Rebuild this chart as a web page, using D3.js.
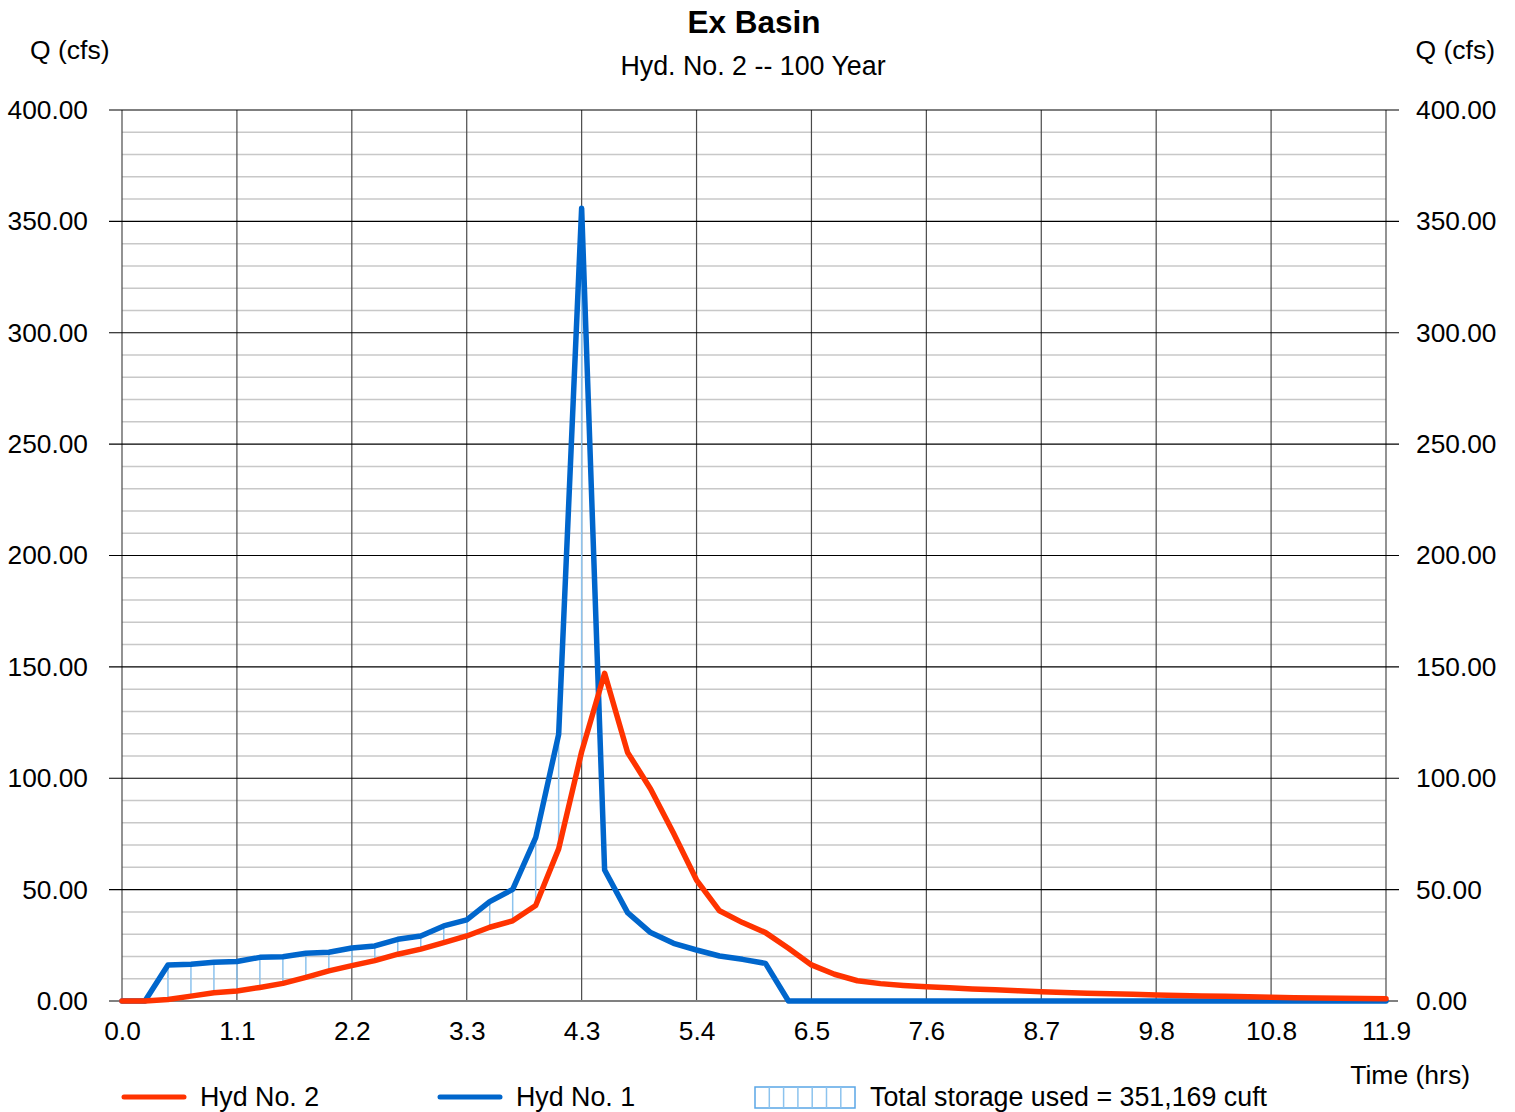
<!DOCTYPE html>
<html>
<head>
<meta charset="utf-8">
<script src="https://cdn.jsdelivr.net/npm/d3@7"></script>
<style>
  body { margin: 0; background: #fff; }
  text { font-family: "Liberation Sans", Arial, sans-serif; fill: #000; }
</style>
</head>
<body>
<script>
// hydrograph time step (hrs) and x-axis tick labels
const dt = 0.21673;
const xTickLabels = ["0.0", "1.1", "2.2", "3.3", "4.3", "5.4", "6.5", "7.6", "8.7", "9.8", "10.8", "11.9"];
const yTicks = [0, 50, 100, 150, 200, 250, 300, 350, 400];
const yMinor = [10, 20, 30, 40, 60, 70, 80, 90, 110, 120, 130, 140, 160, 170, 180, 190,
  210, 220, 230, 240, 260, 270, 280, 290, 310, 320, 330, 340, 360, 370, 380, 390];

// Hyd No. 1 (inflow, blue)
const hyd1 = [0, 0, 16.2, 16.5, 17.4, 17.7, 19.6, 19.9, 21.4, 21.9, 23.8, 24.7, 27.7, 29.2,
  33.7, 36.4, 44.6, 50.1, 73.3, 119.7, 355.9, 58.8, 39.7, 30.7, 25.9, 22.9, 20.2, 18.7, 16.9,
  0, 0, 0, 0, 0, 0, 0, 0, 0, 0, 0, 0, 0, 0, 0, 0, 0, 0, 0, 0, 0, 0, 0, 0, 0, 0, 0];
// Hyd No. 2 (outflow, red)
const hyd2 = [0, 0, 0.7, 2.2, 3.7, 4.5, 6.1, 7.9, 10.6, 13.5, 15.9, 18.1, 21.0, 23.3,
  26.2, 29.2, 33.1, 36.0, 42.9, 68.3, 111.9, 147.1, 111.6, 95.2, 75.3, 54.3, 40.5, 35.2, 30.7,
  23.7, 16.2, 12.0, 9.1, 7.8, 7.0, 6.4, 5.9, 5.4, 5.0, 4.6, 4.1, 3.8, 3.5, 3.2, 3.0, 2.7,
  2.5, 2.3, 2.1, 1.9, 1.7, 1.5, 1.4, 1.2, 1.1, 1.0];

const W = 1515, H = 1112;
const pLeft = 122, pRight = 1386, pTop = 110, pBottom = 1001;
const xMax = dt * (hyd1.length - 1);

const svg = d3.select("body").append("svg")
  .attr("width", W).attr("height", H);

const x = d3.scaleLinear().domain([0, xMax]).range([pLeft, pRight]);
const y = d3.scaleLinear().domain([0, 400]).range([pBottom, pTop]);
const xTicks = xTickLabels.map((d, i) => i * xMax / (xTickLabels.length - 1));

// minor grid
svg.append("g").selectAll("line").data(yMinor).enter().append("line")
  .attr("x1", pLeft).attr("x2", pRight)
  .attr("y1", d => y(d)).attr("y2", d => y(d))
  .attr("stroke", "#c8c8c8").attr("stroke-width", 1.5);

// vertical grid
svg.append("g").selectAll("line").data(xTicks).enter().append("line")
  .attr("x1", d => x(d)).attr("x2", d => x(d))
  .attr("y1", pTop).attr("y2", pBottom)
  .attr("stroke", "#4a4a4a").attr("stroke-width", 1.2);

// major horizontal grid (extends past plot as ticks)
svg.append("g").selectAll("line").data(yTicks.filter(d => d > 0)).enter().append("line")
  .attr("x1", pLeft - 13).attr("x2", pRight + 13)
  .attr("y1", d => y(d)).attr("y2", d => y(d))
  .attr("stroke", "#000").attr("stroke-width", 1.2);

// baseline
svg.append("line")
  .attr("x1", pLeft - 13).attr("x2", pRight + 12)
  .attr("y1", y(0)).attr("y2", y(0))
  .attr("stroke", "#808080").attr("stroke-width", 2);

// axes (labels only)
const fmt = d3.format(".2f");
const yl = svg.append("g").attr("transform", `translate(${pLeft},0)`)
  .call(d3.axisLeft(y).tickValues(yTicks).tickFormat(fmt).tickSize(0).tickPadding(34));
const yr = svg.append("g").attr("transform", `translate(${pRight},0)`)
  .call(d3.axisRight(y).tickValues(yTicks).tickFormat(fmt).tickSize(0).tickPadding(30));
const xb = svg.append("g").attr("transform", `translate(0,${pBottom})`)
  .call(d3.axisBottom(x).tickValues(xTicks).tickFormat((d, i) => xTickLabels[i]).tickSize(0).tickPadding(20));
[yl, yr, xb].forEach(g => {
  g.select(".domain").remove();
  g.selectAll("text").attr("font-size", 26.3).attr("font-family", "Liberation Sans, Arial, sans-serif").attr("fill", "#000");
});

// storage hatch: vertical lines where inflow exceeds outflow
const hatch = hyd1.map((q, i) => ({ t: i * dt, a: q, b: hyd2[i] })).filter(d => d.a > d.b);
svg.append("g").selectAll("line").data(hatch).enter().append("line")
  .attr("x1", d => x(d.t)).attr("x2", d => x(d.t))
  .attr("y1", d => y(d.a)).attr("y2", d => y(d.b))
  .attr("stroke", "#8cc3ee").attr("stroke-width", 1.5);

const line = d3.line().x((d, i) => x(i * dt)).y(d => y(d));
svg.append("path").datum(hyd1).attr("d", line)
  .attr("fill", "none").attr("stroke", "#0066cc").attr("stroke-width", 5.5)
  .attr("stroke-linejoin", "round").attr("stroke-linecap", "round");
svg.append("path").datum(hyd2).attr("d", line)
  .attr("fill", "none").attr("stroke", "#ff3300").attr("stroke-width", 5.5)
  .attr("stroke-linejoin", "round").attr("stroke-linecap", "round");

// titles
svg.append("text").attr("x", 754).attr("y", 33).attr("text-anchor", "middle")
  .attr("font-size", 31.5).attr("font-weight", "bold").text("Ex Basin");
svg.append("text").attr("x", 753).attr("y", 75).attr("text-anchor", "middle")
  .attr("font-size", 26.8).text("Hyd. No. 2 -- 100 Year");
svg.append("text").attr("x", 30).attr("y", 59).attr("font-size", 26.5).text("Q (cfs)");
svg.append("text").attr("x", 1495).attr("y", 59).attr("text-anchor", "end").attr("font-size", 26.5).text("Q (cfs)");
svg.append("text").attr("x", 1470).attr("y", 1084).attr("text-anchor", "end").attr("font-size", 26.5).text("Time (hrs)");

// legend
const lg = svg.append("g");
lg.append("line").attr("x1", 124).attr("x2", 184).attr("y1", 1097).attr("y2", 1097)
  .attr("stroke", "#ff3300").attr("stroke-width", 5).attr("stroke-linecap", "round");
lg.append("text").attr("x", 200).attr("y", 1106).attr("font-size", 26.8).text("Hyd No. 2");
lg.append("line").attr("x1", 440).attr("x2", 500).attr("y1", 1097).attr("y2", 1097)
  .attr("stroke", "#0066cc").attr("stroke-width", 5).attr("stroke-linecap", "round");
lg.append("text").attr("x", 516).attr("y", 1106).attr("font-size", 26.8).text("Hyd No. 1");
lg.append("rect").attr("x", 755).attr("y", 1087).attr("width", 100).attr("height", 21)
  .attr("fill", "none").attr("stroke", "#5aa6e6").attr("stroke-width", 1.5);
lg.selectAll(".hl").data(d3.range(1, 7)).enter().append("line")
  .attr("x1", d => 755 + d * 14.3).attr("x2", d => 755 + d * 14.3)
  .attr("y1", 1087).attr("y2", 1108)
  .attr("stroke", "#8cc3ee").attr("stroke-width", 1.5);
lg.append("text").attr("x", 870).attr("y", 1106).attr("font-size", 26.8).text("Total storage used = 351,169 cuft");
</script>
</body>
</html>
